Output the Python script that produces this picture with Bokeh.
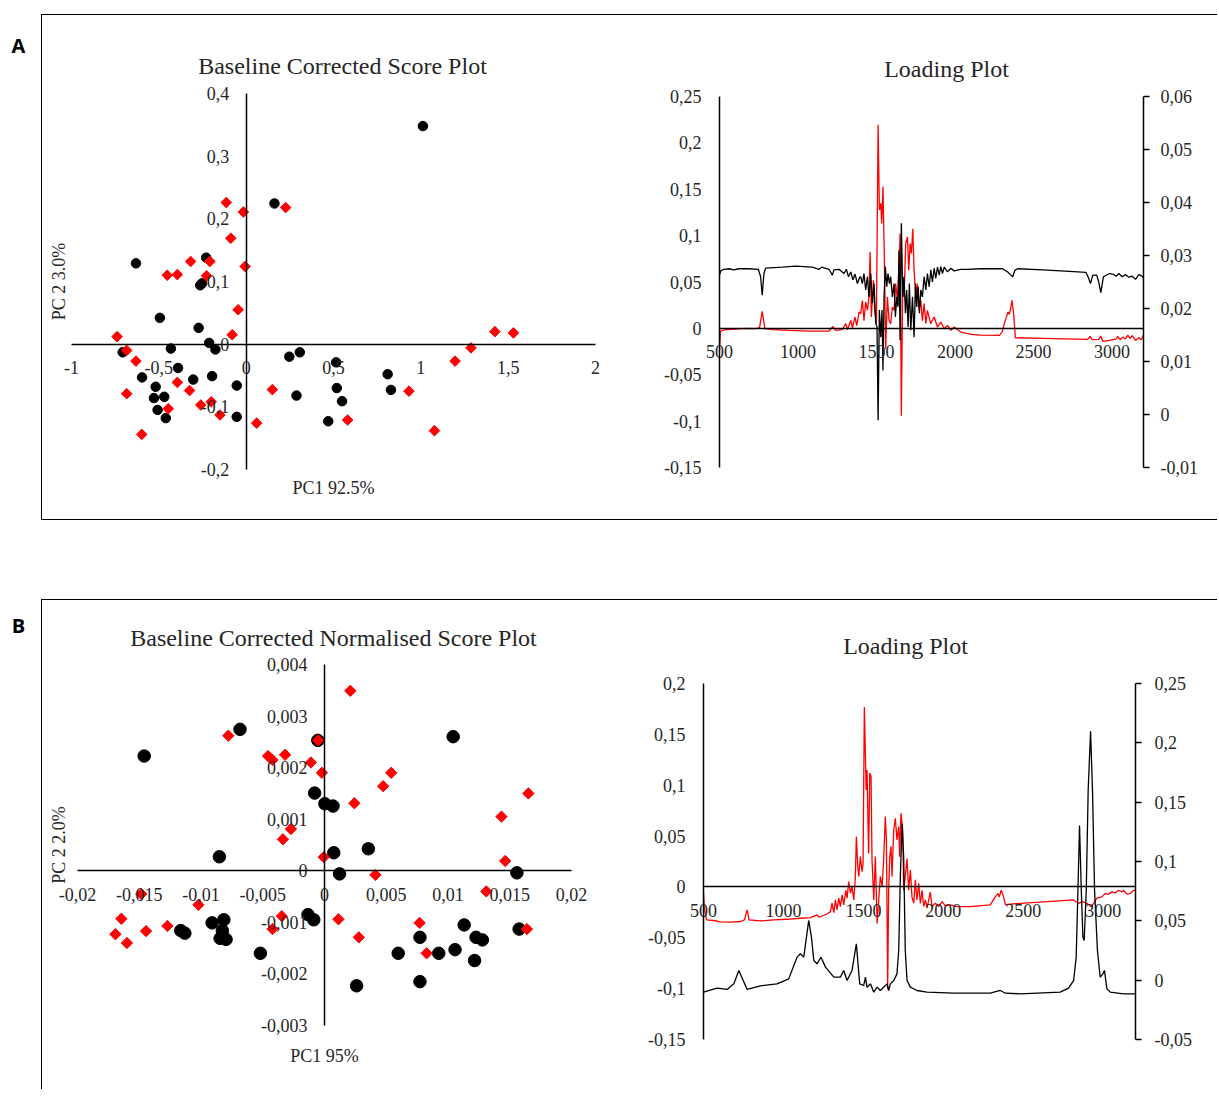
import math
from bokeh.plotting import figure
from bokeh.models import Range1d, LinearAxis, FixedTicker, Label, Spacer
from bokeh.layouts import row, column
from bokeh.embed import file_html
from bokeh.resources import INLINE

FONT = "Liberation Serif"
TXT = "#262626"

# ---------------- Panel A : score plot ----------------
a_score_xticks = [-1, -0.5, 0, 0.5, 1, 1.5, 2]
a_score_xlabels = ["-1", "-0,5", "0", "0,5", "1", "1,5", "2"]
a_score_yticks = [-0.2, -0.1, 0, 0.1, 0.2, 0.3, 0.4]
a_score_ylabels = ["-0,2", "-0,1", "0", "0,1", "0,2", "0,3", "0,4"]

a_black_x = [1.012, 0.162, -0.631, -0.229, -0.263, -0.253, -0.494, -0.272, -0.212, -0.431, -0.176,
             -0.707, -0.390, -0.596, -0.303, -0.195, -0.518, -0.528, -0.469, -0.507, -0.460, -0.054,
             -0.054, 0.247, 0.307, 0.288, 0.515, 0.519, 0.549, 0.470, 0.810, 0.829]
a_black_y = [0.348, 0.2245, 0.129, 0.138, 0.094, 0.097, 0.042, 0.026, 0.002, -0.007, -0.0085,
             -0.013, -0.038, -0.053, -0.0565, -0.051, -0.068, -0.086, -0.084, -0.105, -0.118, -0.066,
             -0.116, -0.020, -0.013, -0.082, -0.029, -0.070, -0.091, -0.123, -0.048, -0.073]
a_red_x = [-0.114, -0.016, 0.226, -0.088, -0.318, -0.208, -0.452, -0.394, -0.227, -0.006, -0.046,
           -0.080, -0.739, -0.684, -0.631, -0.684, -0.394, -0.324, -0.598, -0.446, -0.260, -0.200,
           -0.150, 0.060, 0.150, 0.581, 0.932, 1.078, 1.196, 1.287, 1.424, 1.530]
a_red_y = [0.226, 0.211, 0.218, 0.169, 0.132, 0.132, 0.110, 0.111, 0.109, 0.124, 0.055,
           0.015, 0.012, -0.010, -0.027, -0.079, -0.061, -0.074, -0.144, -0.103, -0.097, -0.092,
           -0.113, -0.126, -0.0725, -0.121, -0.075, -0.138, -0.027, -0.006, 0.020, 0.018]

# ---------------- Panel A : loading plot ----------------
a_load_xticks = [500, 1000, 1500, 2000, 2500, 3000]
a_load_xlabels = ["500", "1000", "1500", "2000", "2500", "3000"]
a_load_lticks = [-0.15, -0.1, -0.05, 0, 0.05, 0.1, 0.15, 0.2, 0.25]
a_load_llabels = ["-0,15", "-0,1", "-0,05", "0", "0,05", "0,1", "0,15", "0,2", "0,25"]
a_load_rticks = [-0.01, 0, 0.01, 0.02, 0.03, 0.04, 0.05, 0.06]
a_load_rlabels = ["-0,01", "0", "0,01", "0,02", "0,03", "0,04", "0,05", "0,06"]

a_red_wn = [500, 506, 538, 602, 666, 730, 755, 772, 789, 836, 942, 1070, 1197, 1223, 1240, 1282, 1304,
            1314, 1336, 1346, 1363, 1374, 1389, 1399, 1410, 1420, 1431, 1442, 1452, 1459, 1467, 1480,
            1488, 1499, 1510, 1518, 1527, 1533, 1541, 1550, 1558, 1569, 1580, 1590, 1601, 1612, 1622,
            1633, 1643, 1650, 1658, 1667, 1675, 1686, 1697, 1705, 1714, 1722, 1731, 1739, 1750, 1760,
            1771, 1782, 1792, 1803, 1814, 1824, 1845, 1867, 1888, 1909, 1931, 1952, 1973, 1994, 2037,
            2101, 2164, 2282, 2299, 2320, 2337, 2345, 2354, 2362, 2373, 2384, 2558, 2845, 2860, 2873,
            2915, 2928, 2941, 2983, 3026, 3036, 3051, 3068, 3085, 3100, 3115, 3128, 3149, 3170, 3185,
            3200]
a_red_val = [-0.024, -0.003, -0.0014, -0.0007, 0.0, -0.0003, 0.0007, 0.0184, -0.0003, -0.0014, -0.0022,
             -0.003, -0.003, 0.002, -0.0022, -0.0014, 0.0052, -0.0014, 0.0086, 0.0007, 0.0122, 0.003,
             0.0178, 0.0159, 0.030, 0.0084, 0.0286, 0.0195, 0.0339, 0.0825, 0.0123, 0.0519, 0.0195,
             0.0051, 0.2195, 0.1276, 0.1348, 0.1132, 0.1528, 0.0735, -0.022, 0.0339, 0.0084, 0.005,
             0.0231, 0.0195, 0.0483, 0.0303, 0.0663, 0.1023, -0.0941, 0.0555, 0.0339, 0.0915, 0.0987,
             0.0627, 0.0915, 0.0807, 0.1074, 0.0627, 0.0339, 0.0483, 0.0195, 0.0303, 0.0084, 0.0267,
             0.005, 0.0195, 0.005, 0.0123, 0.0014, 0.0068, -0.0004, 0.0032, -0.0022, 0.0014, -0.004,
             -0.0065, -0.0072, -0.0076, -0.004, 0.0086, 0.0177, 0.0151, 0.0213, 0.0303, 0.0159, -0.0101,
             -0.0108, -0.0119, -0.0086, -0.0122, -0.0119, -0.0083, -0.0141, -0.013, -0.0112, -0.0086,
             -0.0122, -0.0094, -0.0115, -0.0072, -0.0108, -0.0079, -0.013, -0.0101, -0.0122, -0.0072]
a_black_wn = [500, 508, 528, 560, 591, 623, 687, 747, 762, 772, 783, 793, 900, 985, 1091, 1134, 1151, 1197,
              1219, 1229, 1261, 1293, 1308, 1321, 1336, 1350, 1363, 1378, 1393, 1399, 1410, 1420, 1431,
              1442, 1452, 1463, 1473, 1484, 1495, 1503, 1510, 1518, 1527, 1535, 1541, 1548, 1556, 1565,
              1573, 1582, 1590, 1601, 1612, 1620, 1629, 1637, 1643, 1650, 1658, 1667, 1675, 1684, 1692,
              1701, 1709, 1718, 1729, 1739, 1748, 1756, 1765, 1773, 1782, 1792, 1803, 1814, 1824, 1835,
              1846, 1856, 1867, 1877, 1888, 1899, 1909, 1920, 1931, 1952, 1973, 1994, 2037, 2079, 2164,
              2303, 2335, 2356, 2367, 2381, 2398, 2558, 2728, 2834, 2851, 2862, 2877, 2902, 2915, 2928,
              2945, 2983, 3004, 3026, 3043, 3064, 3085, 3106, 3128, 3149, 3170, 3191, 3200]
a_black_val = [0.0263, 0.0271, 0.0274, 0.0275, 0.0273, 0.0275, 0.0275, 0.0274, 0.026, 0.0225, 0.0266,
               0.0276, 0.0278, 0.028, 0.0278, 0.0274, 0.0278, 0.0274, 0.0263, 0.0273, 0.0274, 0.0266,
               0.0274, 0.026, 0.0269, 0.0254, 0.0265, 0.0247, 0.0259, 0.0260, 0.0247, 0.0266, 0.0235,
               0.0260, 0.0222, 0.0266, 0.0210, 0.0247, 0.0172, 0.0165, -0.0011, 0.0197, 0.0146, 0.0197,
               0.0083, 0.0222, 0.0279, 0.0241, 0.0266, 0.0247, 0.0260, 0.0222, 0.0247, 0.0184, 0.0222,
               0.0203, 0.0310, 0.0140, 0.0361, 0.0222, 0.0260, 0.0191, 0.0235, 0.0165, 0.0247, 0.0159,
               0.0222, 0.0146, 0.0247, 0.0203, 0.0241, 0.0191, 0.0235, 0.0222, 0.0260, 0.0235, 0.0266,
               0.0241, 0.0273, 0.0250, 0.0276, 0.0257, 0.0278, 0.0263, 0.0279, 0.0266, 0.0278, 0.0269,
               0.0276, 0.0271, 0.0274, 0.0274, 0.0275, 0.0275, 0.0269, 0.0263, 0.026, 0.0272, 0.0275,
               0.0273, 0.027, 0.0268, 0.0257, 0.0247, 0.0263, 0.0263, 0.025, 0.023, 0.026, 0.0266,
               0.0265, 0.0261, 0.0266, 0.026, 0.0264, 0.0259, 0.0261, 0.0255, 0.0264, 0.0261, 0.0257]

# ---------------- Panel B : score plot ----------------
b_score_xticks = [-0.02, -0.015, -0.01, -0.005, 0, 0.005, 0.01, 0.015, 0.02]
b_score_xlabels = ["-0,02", "-0,015", "-0,01", "-0,005", "0", "0,005", "0,01", "0,015", "0,02"]
b_score_yticks = [-0.003, -0.002, -0.001, 0, 0.001, 0.002, 0.003, 0.004]
b_score_ylabels = ["-0,003", "-0,002", "-0,001", "0", "0,001", "0,002", "0,003", "0,004"]

b_black_x = [-0.0146, -0.00684, -0.00054, 0.01042, -0.0008, 0.00003, 0.00069, -0.00851, 0.00075,
             0.00355, 0.00122, 0.01558, -0.00134, -0.00087, -0.0091, -0.00815, -0.00827, -0.01164,
             -0.01131, -0.00845, -0.00797, -0.00519, 0.00597, 0.0026, 0.00773, 0.00773, 0.00925,
             0.01057, 0.01131, 0.01227, 0.01278, 0.01215, 0.01576]
b_black_y = [0.002225, 0.002743, 0.002529, 0.0026, 0.001507, 0.0013, 0.001255, 0.000272, 0.00035,
             0.000427, -0.00006, -0.00004, -0.00085, -0.00095, -0.00101, -0.00095, -0.00116, -0.00116,
             -0.00121, -0.00131, -0.00133, -0.0016, -0.0016, -0.00223, -0.00129, -0.00215, -0.0016,
             -0.00153, -0.00105, -0.00129, -0.00134, -0.00174, -0.00113]
b_red_x = [0.00209, -0.00779, -0.00051, -0.00457, -0.00421, -0.00319, -0.0011, -0.00021, 0.0054,
           0.00475, 0.00242, 0.01651, 0.01433, -0.00272, -0.00337, -0.00006, 0.01463, 0.00412, 0.0131,
           -0.01484, -0.01021, -0.01645, -0.00346, 0.00113, -0.00421, -0.01272, -0.01445, -0.01693,
           -0.016, 0.00278, 0.0077, 0.00827, 0.01639]
b_red_y = [0.00349, 0.00262, 0.00253, 0.002225, 0.00215, 0.00225, 0.0021, 0.0019, 0.0019,
           0.00164, 0.00131, 0.0015, 0.00105, 0.00081, 0.00061, 0.000265, 0.00019, -0.00008, -0.0004,
           -0.00045, -0.00066, -0.00093, -0.00088, -0.00094, -0.00113, -0.00107, -0.00117, -0.00123,
           -0.0014, -0.00129, -0.00101, -0.0016, -0.00113]

# ---------------- Panel B : loading plot ----------------
b_load_xticks = [500, 1000, 1500, 2000, 2500, 3000]
b_load_xlabels = ["500", "1000", "1500", "2000", "2500", "3000"]
b_load_lticks = [-0.15, -0.1, -0.05, 0, 0.05, 0.1, 0.15, 0.2]
b_load_llabels = ["-0,15", "-0,1", "-0,05", "0", "0,05", "0,1", "0,15", "0,2"]
b_load_rticks = [-0.05, 0, 0.05, 0.1, 0.15, 0.2, 0.25]
b_load_rlabels = ["-0,05", "0", "0,05", "0,1", "0,15", "0,2", "0,25"]

b_red_wn = [500, 506, 519, 565, 606, 669, 731, 756, 773, 785, 856, 940, 1023, 1106, 1169, 1210, 1223,
            1273, 1294, 1304, 1315, 1325, 1335, 1346, 1356, 1367, 1377, 1390, 1398, 1408, 1419, 1429,
            1440, 1450, 1456, 1465, 1471, 1481, 1492, 1498, 1506, 1513, 1517, 1523, 1529, 1533, 1540,
            1548, 1554, 1565, 1575, 1586, 1596, 1606, 1617, 1627, 1637, 1644, 1652, 1658, 1665, 1673,
            1679, 1690, 1700, 1710, 1721, 1727, 1735, 1746, 1752, 1762, 1773, 1783, 1794, 1804, 1815,
            1825, 1835, 1846, 1856, 1867, 1877, 1888, 1898, 1919, 1929, 1950, 1971, 1992, 2013, 2044,
            2085, 2169, 2294, 2325, 2342, 2350, 2362, 2377, 2388, 2481, 2600, 2700, 2814, 2846, 2867,
            2898, 2925, 2940, 2960, 2992, 3013, 3033, 3054, 3075, 3096, 3117, 3127, 3148, 3169, 3190,
            3202]
b_red_val = [-0.0062, -0.0226, -0.0324, -0.033, -0.0344, -0.0347, -0.034, -0.0324, -0.0226, -0.0324,
             -0.0334, -0.0324, -0.0318, -0.0308, -0.0302, -0.0275, -0.0298, -0.0266, -0.0243, -0.016,
             -0.0253, -0.0128, -0.0226, -0.0111, -0.0193, -0.0078, -0.0177, -0.0033, -0.0111, 0.0052,
             -0.0062, 0.0003, -0.0128, 0.0103, 0.0495, 0.0201, 0.0103, 0.0298, 0.0151, 0.0232, 0.177,
             0.128, 0.0954, 0.115, 0.0626, 0.033, 0.112, 0.1085, 0.0265, -0.0128, 0.0298, -0.036,
             -0.0128, 0.0103, 0.0003, 0.0265, 0.0691, 0.0462, -0.10, -0.0033, 0.0298, 0.04, 0.0103,
             0.056, 0.0675, 0.0462, 0.0593, 0.0298, 0.0724, 0.056, -0.0033, 0.0103, 0.028, -0.0033,
             0.0167, -0.0098, -0.0161, 0.0069, -0.0128, 0.0036, -0.0161, -0.0033, -0.0193, -0.0128,
             -0.0209, -0.005, -0.0193, -0.0161, -0.0193, -0.0144, -0.0187, -0.0177, -0.0194, -0.0194,
             -0.0177, -0.0098, -0.0065, -0.0098, -0.0033, -0.0098, -0.0174, -0.0161, -0.015, -0.014,
             -0.0128, -0.0161, -0.0144, -0.0161, -0.0194, -0.0161, -0.0111, -0.0098, -0.0065, -0.0071,
             -0.0049, -0.0059, -0.0033, -0.0049, -0.0033, -0.0071, -0.0065, -0.0033, -0.0033]
b_black_wn = [500, 585, 648, 690, 721, 773, 856, 960, 1033, 1085, 1106, 1127, 1144, 1158, 1175, 1190,
              1210, 1235, 1263, 1315, 1356, 1377, 1398, 1429, 1456, 1477, 1502, 1513, 1523, 1544, 1565,
              1586, 1606, 1627, 1648, 1658, 1669, 1690, 1710, 1721, 1731, 1742, 1752, 1762, 1773, 1794,
              1835, 1898, 2065, 2294, 2356, 2388, 2481, 2731, 2783, 2815, 2831, 2842, 2852, 2863, 2873,
              2881, 2894, 2906, 2921, 2933, 2946, 2964, 2981, 2998, 3008, 3023, 3044, 3127, 3202]
b_black_val = [-0.0101, -0.0067, -0.0078, -0.0031, 0.0082, -0.0078, -0.0048, -0.0031, 0.0011, 0.0194,
               0.0222, 0.0194, 0.0363, 0.0503, 0.0363, 0.0166, 0.0138, 0.0194, 0.011, 0.0025, 0.0025,
               0.0082, -0.0003, 0.0082, 0.0306, -0.0031, -0.0045, 0.0025, -0.0059, -0.0031, -0.0101,
               -0.0059, -0.0087, -0.0059, -0.0031, -0.0087, -0.0031, -0.0003, 0.0053, 0.025, 0.0869,
               0.1318, 0.1037, 0.025, -0.0003, -0.0059, -0.0087, -0.0101, -0.011, -0.011, -0.0087,
               -0.011, -0.0115, -0.0101, -0.0067, -0.0003, 0.0194, 0.0756, 0.1304, 0.0756, 0.0363,
               0.0335, 0.0756, 0.16, 0.2098, 0.16, 0.0756, 0.025, 0.0025, 0.0053, 0.0082, -0.0073,
               -0.0101, -0.0115, -0.0115]


def xrange_for(lo, hi, margin_left, span, total):
    """Range whose [lo, hi] occupies `span` px starting `margin_left` px into a `total` px frame."""
    s = span / (hi - lo)
    start = lo - margin_left / s
    return Range1d(start, start + total / s)


def yrange_for(lo, hi, margin_top, span, total):
    s = span / (hi - lo)
    end = hi + margin_top / s
    return Range1d(end - total / s, end)


def style_ticks(ax, ticks, labels, standoff, tick_out=0):
    ax.ticker = FixedTicker(ticks=ticks)
    ax.major_label_overrides = dict(zip(ticks, labels))
    ax.bounds = (min(ticks), max(ticks))
    ax.minor_tick_line_color = None
    ax.minor_tick_in = 0
    ax.minor_tick_out = 0
    ax.major_tick_in = 0
    ax.major_tick_out = tick_out
    ax.major_tick_line_color = "black" if tick_out else None
    ax.major_tick_line_width = 1.5
    ax.axis_line_color = "black"
    ax.axis_line_width = 1.5
    ax.major_label_text_font = FONT
    ax.major_label_text_font_size = "18px"
    ax.major_label_text_color = TXT
    ax.major_label_standoff = standoff
    return ax


def base_fig(w, h, xr, yr):
    p = figure(width=w, height=h, x_range=xr, y_range=yr,
               toolbar_location=None, output_backend="svg",
               x_axis_location=None, y_axis_location=None, min_border=0)
    p.xgrid.visible = False
    p.ygrid.visible = False
    p.outline_line_color = None
    p.background_fill_color = "white"
    p.border_fill_color = "white"
    return p


def add_text(p, text, x, y, x_off, y_off, size="18px", angle=0.0):
    p.add_layout(Label(x=x, y=y, x_offset=x_off, y_offset=y_off, text=text, text_align="center",
                       text_baseline="middle", text_font=FONT, text_font_size=size,
                       text_color=TXT, angle=angle))


def score_fig(w, h, frame, xt, xl, yt, yl, title, t_off, xlab, x_off, ylab, y_off,
              bx, by, rx, ry, csize, dsize):
    ml, sw, mt, sh = frame
    xr = xrange_for(min(xt), max(xt), ml, sw, w)
    yr = yrange_for(min(yt), max(yt), mt, sh, h)
    p = base_fig(w, h, xr, yr)
    p.add_layout(style_ticks(LinearAxis(fixed_location=0), xt, xl, 17), "below")
    p.add_layout(style_ticks(LinearAxis(fixed_location=0), yt, yl, 17), "left")
    p.scatter(bx, by, marker="circle", size=csize, fill_color="black", line_color="black")
    p.scatter(rx, ry, marker="square", size=dsize, angle=math.pi / 4,
              fill_color="#FF0000", line_color="#FF0000")
    xmid = (min(xt) + max(xt)) / 2
    ymid = (min(yt) + max(yt)) / 2
    add_text(p, title, xmid, max(yt), t_off[0], t_off[1], size="24px")
    add_text(p, xlab, xmid, min(yt), 0, x_off)
    add_text(p, ylab, min(xt), ymid, y_off, 0, angle=math.pi / 2)
    return p


def loading_fig(w, h, frame, xt, xl, lt, ll, rt, rl, r_so,
                red_wn, red_val, black_wn, black_val, t_off):
    ml, sw, mt, sh = frame
    xr = xrange_for(min(xt), max(red_wn[-1], black_wn[-1]), ml, sw, w)
    yr = yrange_for(min(lt), max(lt), mt, sh, h)
    p = base_fig(w, h, xr, yr)
    p.extra_y_ranges = {"right": yrange_for(min(rt), max(rt), mt, sh, h)}
    xlo, xhi = min(xt), max(red_wn[-1], black_wn[-1])
    xa = style_ticks(LinearAxis(fixed_location=0), xt, xl, 17)
    xa.bounds = (xlo, xhi)
    la = style_ticks(LinearAxis(fixed_location=xlo), lt, ll, 18)
    ra = style_ticks(LinearAxis(fixed_location=xhi, y_range_name="right"), rt, rl, r_so, tick_out=6)
    p.add_layout(xa, "below")
    p.add_layout(la, "left")
    p.add_layout(ra, "right")
    p.line(red_wn, red_val, line_color="#FF0000", line_width=1.3)
    p.line(black_wn, black_val, line_color="black", line_width=1.3, y_range_name="right")
    add_text(p, "Loading Plot", (xlo + xhi) / 2, max(lt), t_off[0], t_off[1], size="24px")
    return p


def letter_fig(letter, w, h, x, y):
    p = figure(width=w, height=h, x_range=Range1d(0, w), y_range=Range1d(0, h),
               toolbar_location=None, output_backend="svg",
               x_axis_location=None, y_axis_location=None, min_border=0)
    p.xgrid.visible = False
    p.ygrid.visible = False
    p.outline_line_color = None
    p.add_layout(Label(x=x, y=y, text=letter, text_align="center", text_baseline="middle",
                       text_font="Open Sans", text_font_style="bold", text_font_size="20px",
                       text_color="black"))
    return p


# frame spec: (left margin, span width, top margin, span height) in px of each canvas
sA = score_fig(598, 504, (29, 524, 78, 376),
               a_score_xticks, a_score_xlabels, a_score_yticks, a_score_ylabels,
               "Baseline Corrected Score Plot", (9, 28), "PC1 92.5%", -18, "PC 2 3.0%", -13,
               a_black_x, a_black_y, a_red_x, a_red_y, 9.5, 7.5)
lA = loading_fig(577, 504, (79, 424, 81, 371),
                 a_load_xticks, a_load_xlabels, a_load_lticks, a_load_llabels,
                 a_load_rticks, a_load_rlabels, 11,
                 a_red_wn, a_red_val, a_black_wn, a_black_val, (15, 28))

sB = score_fig(578, 489, (35, 494, 64, 361),
               b_score_xticks, b_score_xlabels, b_score_yticks, b_score_ylabels,
               "Baseline Corrected Normalised Score Plot", (9, 27), "PC1 95%", -30, "PC 2 2.0%", -19,
               b_black_x, b_black_y, b_red_x, b_red_y, 12.5, 8)
lB = loading_fig(597, 489, (83, 432, 83, 356),
                 b_load_xticks, b_load_xlabels, b_load_lticks, b_load_llabels,
                 b_load_rticks, b_load_rlabels, 13,
                 b_red_wn, b_red_val, b_black_wn, b_black_val, (-14, 38))

boxA = row(sA, lA, styles={"border-top": "1px solid black", "border-left": "1px solid black",
                           "border-bottom": "1px solid black"})
boxB = row(sB, lB, styles={"border-top": "1px solid black", "border-left": "1px solid black"})

layout = column(Spacer(height=14),
                row(letter_fig("A", 41, 506, 18, 475), boxA),
                Spacer(height=79),
                row(letter_fig("B", 41, 490, 18, 464), boxB))

open("out.html", "w").write(file_html(layout, INLINE))
